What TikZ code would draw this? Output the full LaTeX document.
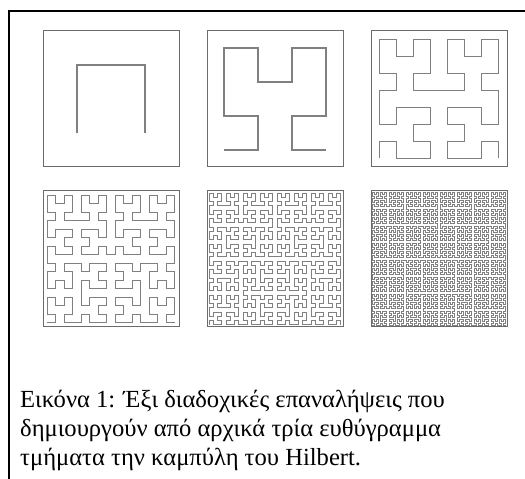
\documentclass[tikz,border=0pt]{standalone}
\usepackage{fontspec}
\setmainfont{Liberation Serif}
\usetikzlibrary{lindenmayersystems}
\pgfdeclarelindenmayersystem{Hilbert curve}{
  \rule{L -> +RF-LFL-FR+}
  \rule{R -> -LF+RFR+FL-}}
\newcommand\hilbox[4]{%
  \pgfmathsetmacro\cellsz{136/2^#4}%
  \node[sqframe, anchor=south west] (#1) at (#2,#3) {};
  \draw[hcurve, shift={([shift={(\cellsz/2,\cellsz/2)}]#1.south west)},
        l-system={Hilbert curve, axiom=L, order=#4, step=\cellsz pt, angle=90}]
    (0,0) lindenmayer system;
}
\begin{document}
\begin{tikzpicture}[x=1pt,y=1pt,
  sqframe/.style={draw=black!58, line width=1.3pt, minimum size=136pt, inner sep=0pt},
  hcurve/.style={draw=black!50, line width=1.05pt, line join=miter},
  outer/.style={draw=black, line width=1.5pt},
  captxt/.style={anchor=base west, inner sep=0pt, font=\fontsize{24.6}{29}\selectfont}]
\useasboundingbox (0,0) rectangle (525,479);
\coordinate (tr) at (525,468);
\coordinate (tl) at (9,468);
\coordinate (bl) at (9,0);
\draw[outer] (tr) -- (tl) -- (bl);
\hilbox{s1}{43}{312}{1}
\hilbox{s2}{207}{312}{2}
\hilbox{s3}{371}{312}{3}
\hilbox{s4}{43}{152}{4}
\hilbox{s5}{207}{152}{5}
\hilbox{s6}{371}{152}{6}
\node[captxt] (c1) at (20,71) {Εικόνα 1: Έξι διαδοχικές επαναλήψεις που};
\node[captxt] (c2) at (20,42) {δημιουργούν από αρχικά τρία ευθύγραμμα};
\node[captxt] (c3) at (20,13) {τμήματα την καμπύλη του Hilbert.};
\end{tikzpicture}
\end{document}
